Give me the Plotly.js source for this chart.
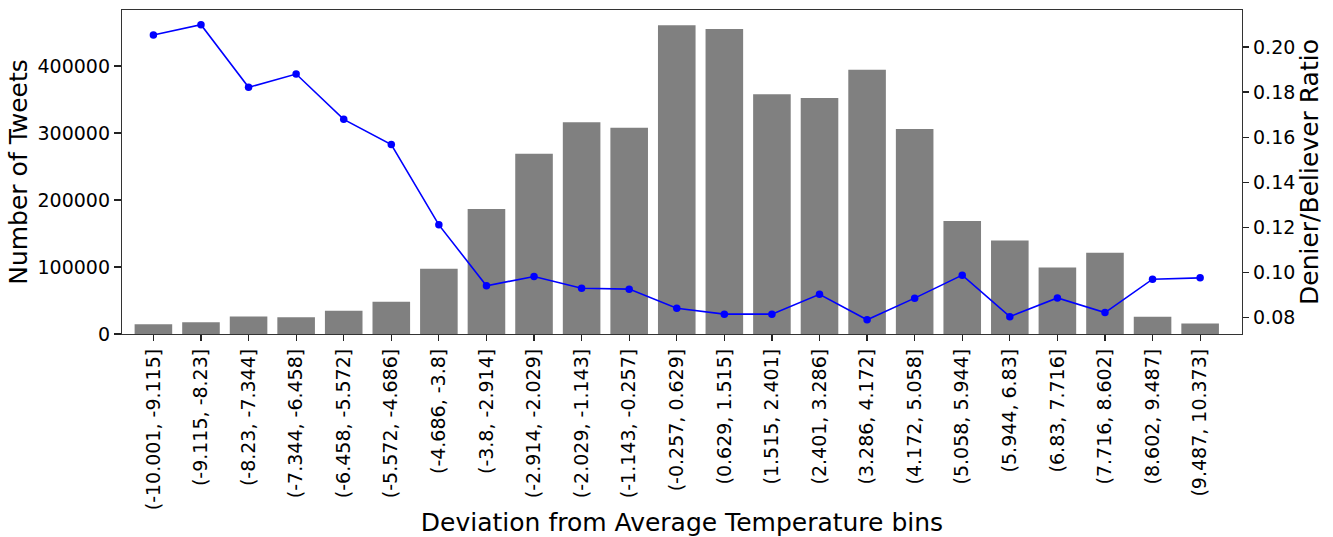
<!DOCTYPE html>
<html>
<head>
<meta charset="utf-8">
<script src="https://cdn.plot.ly/plotly-3.0.1.min.js"></script>
<style>html,body{margin:0;padding:0;background:#fff;}#chart{width:1333px;height:537px;}</style>
</head>
<body>
<div id="chart"></div>
<script>
const binLabels = ["(-10.001, -9.115]","(-9.115, -8.23]","(-8.23, -7.344]","(-7.344, -6.458]","(-6.458, -5.572]","(-5.572, -4.686]","(-4.686, -3.8]","(-3.8, -2.914]","(-2.914, -2.029]","(-2.029, -1.143]","(-1.143, -0.257]","(-0.257, 0.629]","(0.629, 1.515]","(1.515, 2.401]","(2.401, 3.286]","(3.286, 4.172]","(4.172, 5.058]","(5.058, 5.944]","(5.944, 6.83]","(6.83, 7.716]","(7.716, 8.602]","(8.602, 9.487]","(9.487, 10.373]"];
const tweetCounts = [14600,17600,26100,25100,34600,48100,97400,186400,269000,316000,308000,460800,455300,357700,352200,394600,305900,168500,139700,99300,121300,25700,15700];
const deniersRatio = [0.2053,0.2099,0.1821,0.1880,0.1679,0.1567,0.1211,0.0941,0.0982,0.0930,0.0926,0.0841,0.0815,0.0815,0.0903,0.0790,0.0886,0.0988,0.0804,0.0887,0.0822,0.0970,0.0976];
const leftTicks = [0,100000,200000,300000,400000];
const rightTicks = [0.08,0.10,0.12,0.14,0.16,0.18,0.20];

const idx = binLabels.map((_, i) => i);
const font = "DejaVu Sans, sans-serif";

const traces = [
  {type:'bar', x: idx, y: tweetCounts, width: 0.79, marker:{color:'#808080', line:{width:0}}, yaxis:'y', hoverinfo:'x+y', showlegend:false},
  {type:'scatter', mode:'lines+markers', x: idx, y: deniersRatio, yaxis:'y2', line:{color:'#0000ff', width:1.6}, marker:{color:'#0000ff', size:7.5}, showlegend:false}
];

const layout = {
  width:1333, height:537,
  margin:{l:122, r:91, t:10, b:203},
  paper_bgcolor:'#fff', plot_bgcolor:'#fff',
  font:{family:font, color:'#000', size:19},
  xaxis:{
    range:[-0.66, 22.88], tickmode:'array', tickvals: idx, ticktext: binLabels,
    tickangle:-90, ticks:'outside', ticklen:6, tickcolor:'#222', tickwidth:1.2,
    showline:true, linecolor:'#333', linewidth:1.2, mirror:true, showgrid:false, zeroline:false,
    tickfont:{size:19, family:font},
    title:{text:'Deviation from Average Temperature bins', font:{size:25, family:font}, standoff:10}
  },
  yaxis:{
    range:[0, 483600], tickmode:'array', tickvals: leftTicks, ticktext: leftTicks.map(v=>String(v)),
    ticks:'outside', ticklen:7, tickcolor:'#222', tickwidth:1.2,
    showline:true, linecolor:'#333', linewidth:1.2, showgrid:false, zeroline:false,
    tickfont:{size:19, family:font},
    title:{text:'Number of Tweets', font:{size:25, family:font}, standoff:2}
  },
  yaxis2:{
    overlaying:'y', side:'right', range:[0.0727, 0.2164], tickmode:'array', tickvals: rightTicks, ticktext: rightTicks.map(v=>v.toFixed(2)),
    ticks:'outside', ticklen:6, tickcolor:'#222', tickwidth:1.2,
    showline:true, linecolor:'#333', linewidth:1.2, showgrid:false, zeroline:false,
    tickfont:{size:19, family:font},
    title:{text:'Denier/Believer Ratio', font:{size:25, family:font}, standoff:3}
  }
};

Plotly.newPlot('chart', traces, layout, {staticPlot:true, displayModeBar:false});
</script>
</body>
</html>
